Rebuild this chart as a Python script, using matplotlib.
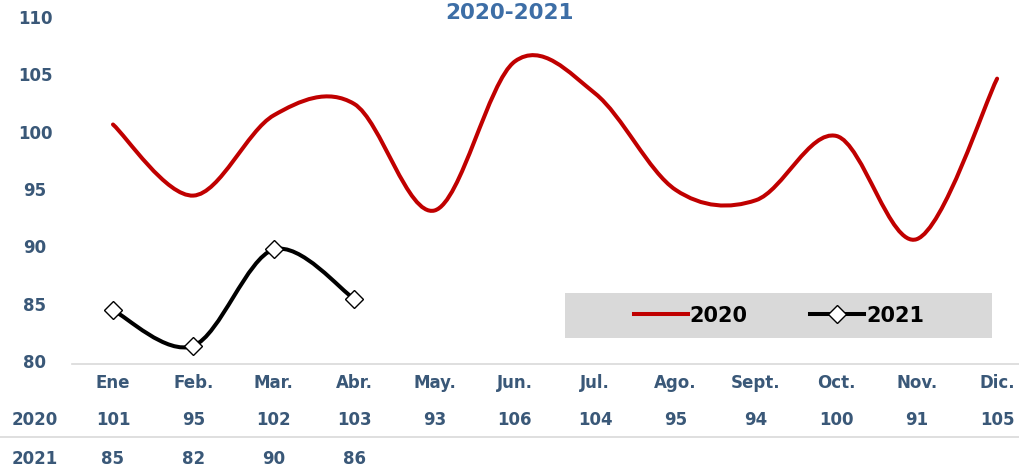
import numpy as np
import matplotlib
matplotlib.use("Agg")
import matplotlib.pyplot as plt
from matplotlib.path import Path
from matplotlib.patches import PathPatch, Rectangle
from matplotlib.lines import Line2D
import matplotlib.transforms as mtransforms

plt.rcParams['font.family'] = ['DejaVu Sans']

# data
months = ['Ene', 'Feb.', 'Mar.', 'Abr.', 'May.', 'Jun.', 'Jul.', 'Ago.', 'Sept.', 'Oct.', 'Nov.', 'Dic.']
v2020 = [100.8, 94.6, 101.6, 102.6, 93.3, 106.3, 103.5, 95.1, 94.2, 99.8, 90.8, 104.8]
v2021 = [84.6, 81.5, 89.9, 85.6]
# values printed in the data table
t2020 = ['101', '95', '102', '103', '93', '106', '104', '95', '94', '100', '91', '105']
t2021 = ['85', '82', '90', '86']
yticks = [80, 85, 90, 95, 100, 105, 110]

text_col = '#3a5878'
red = '#c00000'


def smooth_path(x, y):
    # excel style smoothed line: cubic bezier through every point
    pts = np.column_stack([x, y]).astype(float)
    n = len(pts)
    verts = [pts[0]]
    codes = [Path.MOVETO]
    for i in range(n - 1):
        p0 = pts[i - 1] if i > 0 else pts[i]
        p1 = pts[i]
        p2 = pts[i + 1]
        p3 = pts[i + 2] if i + 2 < n else pts[i + 1]
        c1 = p1 + (p2 - p0) / 6.0
        c2 = p2 - (p3 - p1) / 6.0
        verts += [c1, c2, p2]
        codes += [Path.CURVE4] * 3
    return Path(verts, codes)


W, H = 1019, 469
fig = plt.figure(figsize=(W / 100, H / 100), dpi=100)
ax = fig.add_axes([72.8 / W, 106 / H, 964.5 / W, 344 / H])
ax.set_xlim(-0.5, 11.5)
ax.set_ylim(80, 110)
ax.axis('off')

x20 = np.arange(len(v2020))
x21 = np.arange(len(v2021))

ax.add_patch(PathPatch(smooth_path(x20, v2020), fill=False, edgecolor=red,
                       lw=2.9, capstyle='round', zorder=3))
ax.add_patch(PathPatch(smooth_path(x21, v2021), fill=False, edgecolor='black',
                       lw=2.9, capstyle='round', zorder=3))
ax.plot(x21, v2021, ls='none', marker='D', ms=9, mfc='white', mec='black',
        mew=1.0, zorder=4)

# title
fig.text(0.5, (H - 13) / H, '2020-2021', ha='center', va='center',
         fontsize=15.5, fontweight='bold', color='#3d6ea6')

# y tick labels
tr_y = mtransforms.blended_transform_factory(fig.transFigure, ax.transData)
for t in yticks:
    fig.text(35 / W, t, str(t), transform=tr_y, ha='center', va='center',
             fontsize=12, fontweight='bold', color=text_col)

# data table under the axis
tr_x = mtransforms.blended_transform_factory(ax.transData, fig.transFigure)
y_month = (H - 383) / H
y_r20 = (H - 420) / H
y_r21 = (H - 459) / H
for i, mname in enumerate(months):
    ax.text(i, y_month, mname, transform=tr_x, ha='center', va='center',
            fontsize=12, fontweight='bold', color=text_col, clip_on=False)
    ax.text(i, y_r20, t2020[i], transform=tr_x, ha='center',
            va='center', fontsize=12, fontweight='bold', color=text_col, clip_on=False)
for i, lab in enumerate(t2021):
    ax.text(i, y_r21, lab, transform=tr_x, ha='center',
            va='center', fontsize=12, fontweight='bold', color=text_col, clip_on=False)
fig.text(35 / W, y_r20, '2020', ha='center', va='center', fontsize=12,
         fontweight='bold', color=text_col)
fig.text(35 / W, y_r21, '2021', ha='center', va='center', fontsize=12,
         fontweight='bold', color=text_col)

# table rules
fig.add_artist(Line2D([72 / W, 1], [(H - 364) / H] * 2, color='#d9d9d9', lw=1.2))
fig.add_artist(Line2D([0, 1], [(H - 437) / H] * 2, color='#d9d9d9', lw=1.2))

# legend on a grey band
fig.add_artist(Rectangle((565 / W, (H - 338) / H), 427 / W, 45 / H,
                         transform=fig.transFigure, facecolor='#d9d9d9',
                         edgecolor='none', zorder=1))
handles = [Line2D([], [], color=red, lw=2.9),
           Line2D([], [], color='black', lw=2.9, marker='D', ms=9,
                  mfc='white', mec='black', mew=1.0)]
leg = fig.legend(handles, ['2020', '2021'], loc='center',
                 bbox_to_anchor=(779 / W, (H - 315.5) / H), ncol=2,
                 frameon=False, handlelength=2.6, handletextpad=0.1,
                 columnspacing=3.0, prop={'size': 15, 'weight': 'bold'})
leg.set_zorder(5)

fig.savefig('out.png', dpi=100)
